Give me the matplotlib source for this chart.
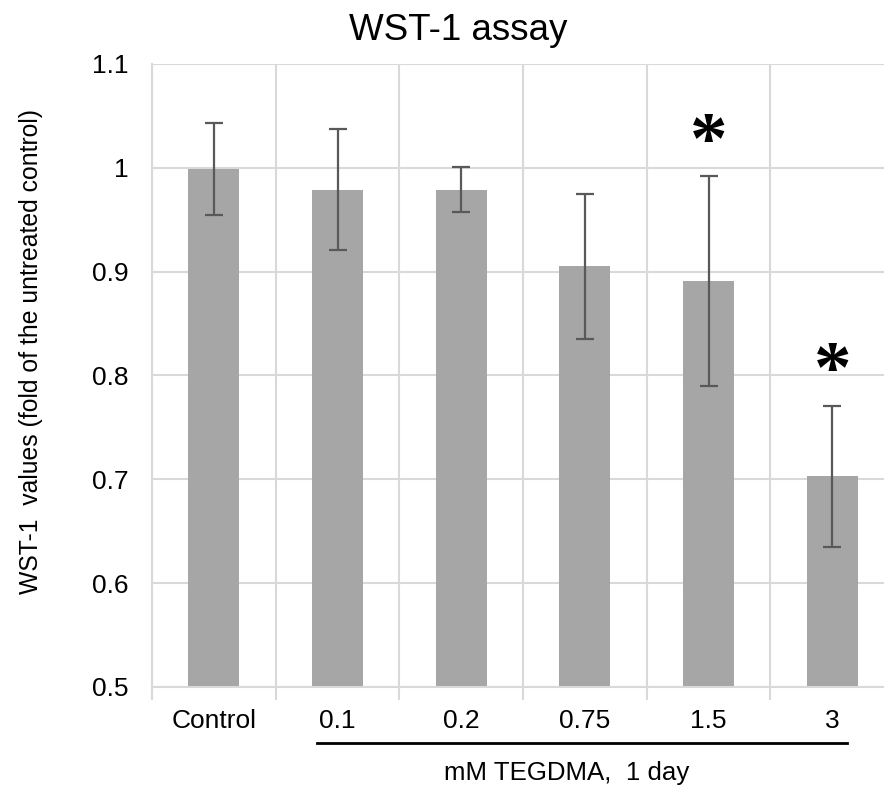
import matplotlib.pyplot as plt
import numpy as np

plt.rcParams['font.family'] = ['Liberation Sans', 'DejaVu Sans']

categories = ["Control", "0.1", "0.2", "0.75", "1.5", "3"]
values = [0.999, 0.979, 0.979, 0.905, 0.891, 0.703]
errors = [0.044, 0.058, 0.022, 0.070, 0.101, 0.068]
significant = [False, False, False, False, True, True]

GRID = "#d9d9d9"
BAR = "#a6a6a6"
ERR = "#595959"

fig = plt.figure(figsize=(8.84, 7.89), dpi=100)
ax = fig.add_axes([152 / 884, 1 - 687 / 789, 742 / 884, 623 / 789])

x = np.arange(len(categories))
ax.bar(x, values, width=0.41, color=BAR, zorder=2)
ax.errorbar(x, values, yerr=errors, fmt="none", ecolor=ERR, elinewidth=1.6,
            capsize=6.5, capthick=1.6, zorder=3)

for xi, v, e, sig in zip(x, values, errors, significant):
    if sig:
        ax.text(xi, v + e + 0.03, "*", ha="center", va="center",
                fontsize=54, fontweight="bold", family="Liberation Serif",
                color="black")

ax.set_xlim(-0.5, len(categories) - 0.5)
ax.set_ylim(0.5, 1.1)
ax.set_yticks([0.5, 0.6, 0.7, 0.8, 0.9, 1.0, 1.1])
ax.set_yticklabels(["0.5", "0.6", "0.7", "0.8", "0.9", "1", "1.1"])
ax.set_xticks(x)
ax.set_xticklabels(categories)
ax.set_xticks(np.arange(-0.5, len(categories)), minor=True)

ax.tick_params(axis="x", which="major", length=0, pad=16, labelsize=19)
ax.tick_params(axis="x", which="minor", length=9, width=1.5, color=GRID)
ax.tick_params(axis="y", length=0, pad=17, labelsize=19)

ax.grid(True, axis="y", which="major", color=GRID, linewidth=1.5, zorder=0)
ax.grid(True, axis="x", which="minor", color=GRID, linewidth=1.5, zorder=0)
ax.grid(False, axis="x", which="major")
ax.set_axisbelow(True)
for side in ["top", "right"]:
    ax.spines[side].set_visible(False)
for side in ["left", "bottom"]:
    ax.spines[side].set_color(GRID)
    ax.spines[side].set_linewidth(1.5)

ax.set_ylabel("WST-1  values (fold of the untreated control)", fontsize=17.8)
ax.yaxis.set_label_coords(-0.147, 0.538)
fig.text(458 / 884, 1 - 30 / 789, "WST-1 assay", ha="center", va="center",
         fontsize=26.5)

# bracket under the TEGDMA doses
fig.add_artist(plt.Line2D([317 / 884, 847 / 884], [1 - 743 / 789] * 2,
                          color="black", linewidth=2))
fig.text(567 / 884, 1 - 773 / 789, "mM TEGDMA,  1 day", ha="center",
         va="center", fontsize=18.6)

fig.savefig("out.png", dpi=100, facecolor="white")
